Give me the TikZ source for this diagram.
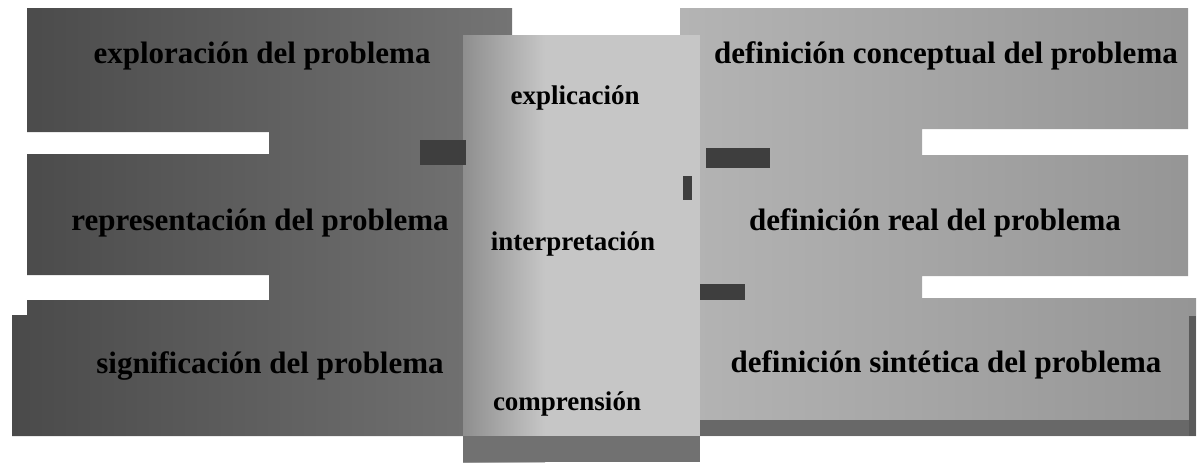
\documentclass[tikz,border=0pt]{standalone}
\usepackage{fontspec}
\setmainfont{Liberation Serif}
\definecolor{darkL}{HTML}{4A4A4A}
\definecolor{midL}{HTML}{747474}
\definecolor{lightC}{HTML}{C6C6C6}
\definecolor{midC}{HTML}{8E8E8E}
\definecolor{rightR}{HTML}{B4B4B4}
\definecolor{rightD}{HTML}{959595}
\definecolor{blockD}{HTML}{3E3E3E}
\begin{document}
\begin{tikzpicture}[x=1pt,y=-1pt,
  lbl/.style={font=\fontsize{31}{31}\selectfont\bfseries, text=black, inner sep=0pt, anchor=base},
  clbl/.style={lbl, font=\fontsize{27}{27}\selectfont\bfseries},
  patch/.style={fill=blockD}]
\useasboundingbox (0,0) rectangle (1198,466);
% left dark region with white gaps
\shade[left color=darkL, right color=midL]
  (27,8) -- (512,8) -- (512,436) -- (12,436) -- (12,315) -- (27,315) -- (27,300)
  -- (269,300) -- (269,275) -- (27,275) -- (27,154) -- (269,154) -- (269,132)
  -- (27,132) -- cycle;
% right region
\shade[left color=rightR, right color=rightD]
  (680,8) -- (1188,8) -- (1188,129) -- (922,129) -- (922,155) -- (1188,155)
  -- (1188,276) -- (922,276) -- (922,298) -- (1196,298) -- (1196,436)
  -- (680,436) -- cycle;
\fill[rightD!70!black] (690,420) rectangle (1196,436);
\fill[rightD!60!black] (1189,316) rectangle (1196,436);
% center box
\shade[left color=midC, right color=lightC] (463,35) rectangle (545,462);
\fill[lightC] (545,35) rectangle (700,462);
\fill[midC!80!black] (463,436) rectangle (700,462);
% small dark patches
\fill[patch] (420,140) rectangle (466,165);
\fill[patch] (706,148) rectangle (770,168);
\fill[patch] (683,176) rectangle (692,200);
\fill[patch] (700,284) rectangle (745,300);
% labels
\node[lbl] (a1) at (262,63) {exploración del problema};
\node[lbl] (c1) at (946,63) {definición conceptual del problema};
\node[clbl] (b1) at (575,104) {explicación};
\node[lbl] (a2) at (260,230) {representación del problema};
\node[lbl] (c2) at (935,230) {definición real del problema};
\node[clbl] (b2) at (573,250) {interpretación};
\node[lbl] (a3) at (270,373) {significación del problema};
\node[lbl] (c3) at (946,372) {definición sintética del problema};
\node[clbl] (b3) at (567,410) {comprensión};
\end{tikzpicture}
\end{document}
